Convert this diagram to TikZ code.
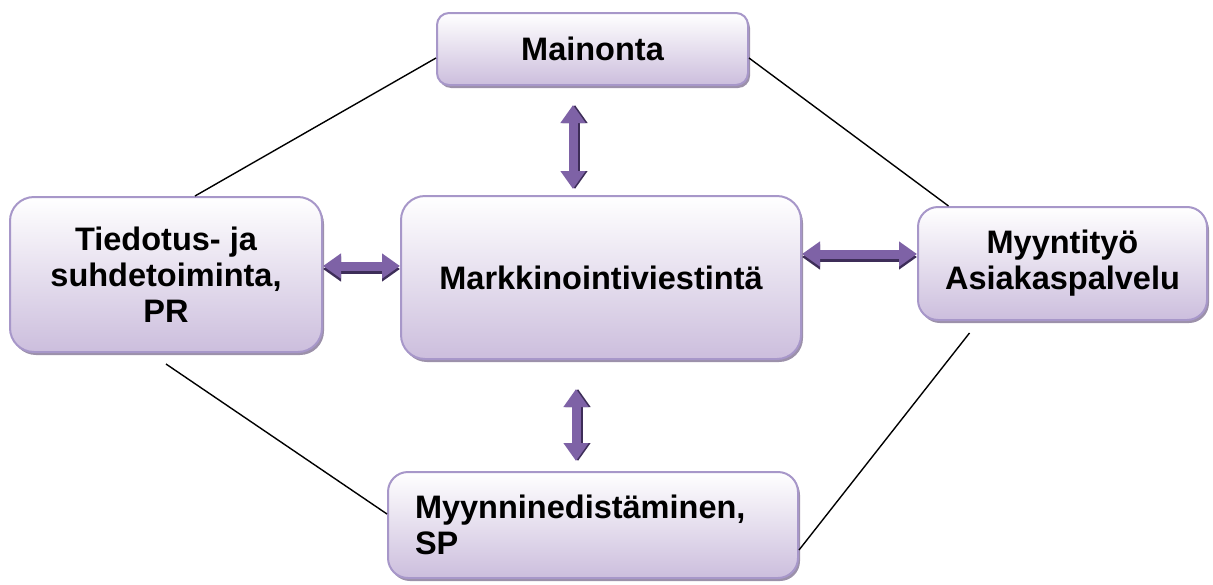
\documentclass[tikz,border=0pt]{standalone}
\usepackage{fontspec}
\setmainfont{Liberation Sans}
\usetikzlibrary{arrows.meta,shadows}

\definecolor{boxline}{HTML}{A797C9}
\definecolor{boxfill}{HTML}{CCBEDD}
\definecolor{boxshade}{HTML}{9C91AA}
\definecolor{arrowfill}{HTML}{7E62A6}
\definecolor{arrowshade}{HTML}{3D2D58}

\tikzset{
	box/.style={draw=boxline, line width=2pt, rounded corners=20pt, top color=white, bottom color=boxfill,
		font=\fontsize{32.5}{36}\selectfont\bfseries, align=center, inner sep=0pt,
		drop shadow={shadow xshift=2pt, shadow yshift=-3pt, fill=boxshade, opacity=1}},
	link/.style={draw=black, line width=1.4pt},
	arrowmain/.style={draw=arrowfill, line width=9pt, {Triangle[length=18pt,width=24pt]}-{Triangle[length=18pt,width=24pt]}},
	arrowshadow/.style={arrowmain, draw=arrowshade, xshift=2pt, yshift=-3pt},
}

\begin{document}
\begin{tikzpicture}[x=1pt,y=-1pt]
	\useasboundingbox (0,0) rectangle (1213,584);
	% boxes
	\node[box, rounded corners=12pt, minimum width=311pt, minimum height=72pt] (mainonta) at (592.5,49) {Mainonta};
	\node[box, rounded corners=24pt, minimum width=312pt, minimum height=155pt] (tiedotus) at (166,274.5) {Tiedotus- ja\\suhdetoiminta,\\PR};
	\node[box, rounded corners=24pt, minimum width=400pt, minimum height=163pt] (markk) at (601,277.5) {Markkinointiviestintä};
	\node[box, minimum width=289pt, minimum height=113pt] (myynti) at (1062.5,263.5) {Myyntityö\\Asiakaspalvelu};
	\node[box, align=left, text width=356pt, inner xsep=27pt, minimum height=106pt] (sp) at (593,525) {Myynninedistäminen,\\SP};
	% thin lines
	\draw[link] ([xshift=29pt]tiedotus.north) -- ([yshift=-9pt]mainonta.west);
	\draw[link] ([yshift=-9pt]mainonta.east) -- ([xshift=-114pt]myynti.north);
	\draw[link] ([yshift=-11pt]tiedotus.south) -- ([yshift=11pt]sp.west);
	\draw[link] ([xshift=-93pt,yshift=-12pt]myynti.south) -- ([yshift=-25pt]sp.east);
	% double arrows
	\foreach \s in {arrowshadow,arrowmain}{
		\draw[\s, shorten <=19pt, shorten >=6pt] (mainonta.south -| 573,0) -- (markk.north -| 573,0);
		\draw[\s, shorten <=29pt, shorten >=10pt] (markk.south -| 576,0) -- (sp.north -| 576,0);
		\draw[\s] (tiedotus.east |- 0,266) -- (markk.west |- 0,266);
		\draw[\s] (markk.east |- 0,254) -- (myynti.west |- 0,254);
	}
\end{tikzpicture}
\end{document}
